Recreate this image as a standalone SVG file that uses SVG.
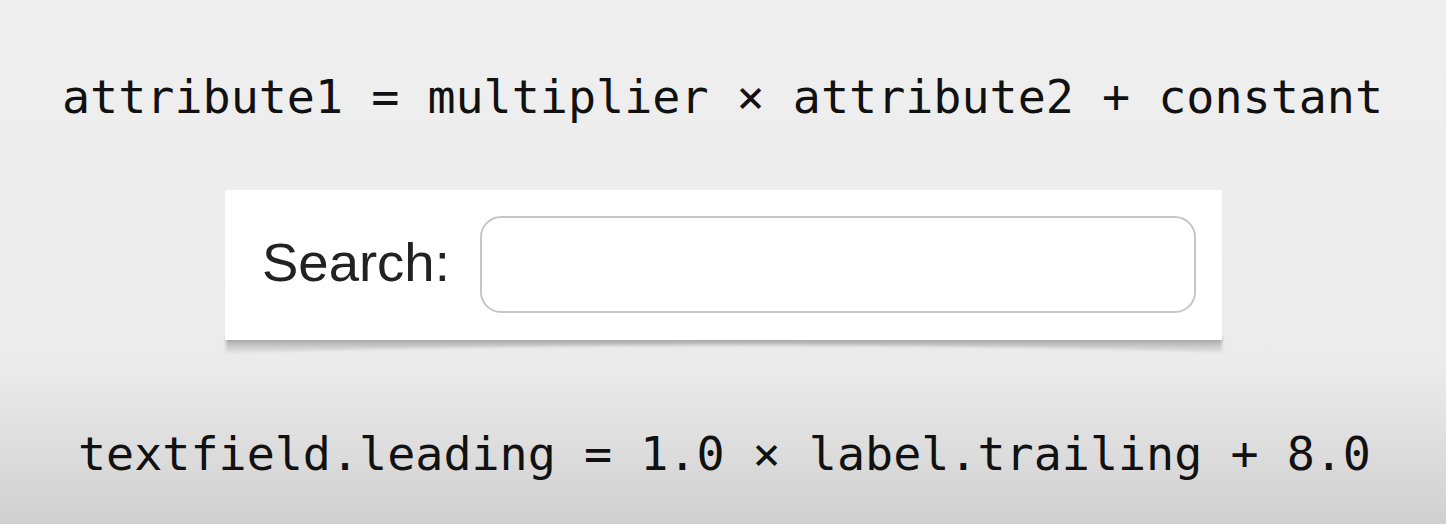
<svg xmlns="http://www.w3.org/2000/svg" width="1446" height="524" viewBox="0 0 1446 524">
<defs>
<linearGradient id="bg" x1="0" y1="0" x2="0" y2="1">
<stop offset="0" stop-color="#efefef"/>
<stop offset="0.7" stop-color="#ebebeb"/>
<stop offset="1" stop-color="#d0d0d0"/>
</linearGradient>
<linearGradient id="sh" x1="0" y1="0" x2="0" y2="1">
<stop offset="0" stop-color="#8c8c8c"/>
<stop offset="1" stop-color="#c8c8c8" stop-opacity="0.3"/>
</linearGradient>
<filter id="blur" x="-5%" y="-50%" width="110%" height="200%"><feGaussianBlur stdDeviation="1.5"/></filter>
<style>
.code{font-family:"DejaVu Sans Mono","Liberation Mono",monospace;font-size:46.7px;fill:#111}
.lbl{font-family:"Liberation Sans",Arial,sans-serif;font-size:54.5px;fill:#222}
</style>
</defs>
<rect width="1446" height="524" fill="url(#bg)"/>
<g id="formula-generic"><text class="code" x="62" y="113">attribute1 = multiplier × attribute2 + constant</text></g>
<g id="panel">
<path d="M226 336 L1222 336 L1222 352 Q724 338 226 353 Z" fill="url(#sh)" filter="url(#blur)"/>
<rect x="225" y="190" width="997" height="150" fill="#ffffff"/>
</g>
<g id="label"><text class="lbl" x="262" y="281">Search:</text></g>
<g id="textfield"><rect x="481" y="217" width="714" height="95" rx="20" fill="#ffffff" stroke="#c6c6c6" stroke-width="2"/></g>
<g id="formula-example"><text class="code" x="78" y="470">textfield.leading = 1.0 × label.trailing + 8.0</text></g>
<g id="connectors"/>
</svg>
